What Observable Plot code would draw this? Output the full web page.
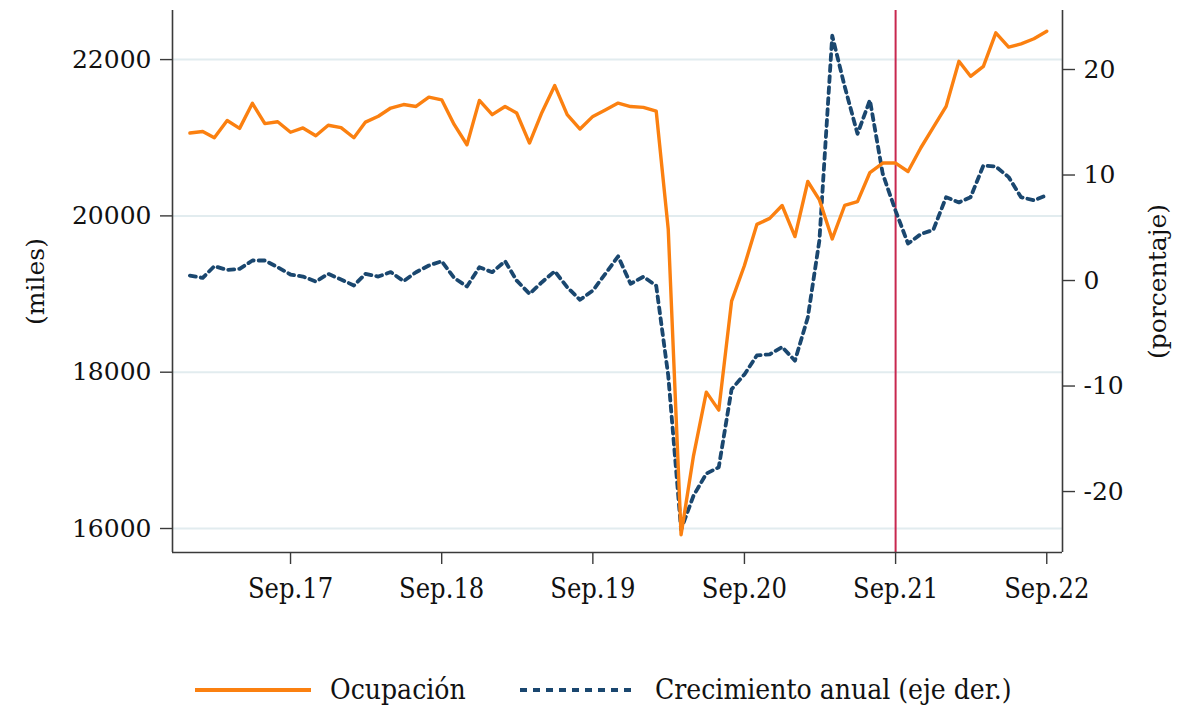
<!DOCTYPE html>
<html>
<head>
<meta charset="utf-8">
<script src="https://cdn.jsdelivr.net/npm/d3@7"></script>
<script src="https://cdn.jsdelivr.net/npm/@observablehq/plot@0.6"></script>
<style>
  html, body { margin: 0; padding: 0; background: #fff; }
  #wrap { position: relative; width: 1189px; height: 706px; overflow: hidden; }
  #chart svg { display: block; }
  #legend { position: absolute; left: 0; top: 640px; width: 1189px; height: 66px;
    font-family: "DejaVu Serif Condensed", "DejaVu Serif", serif; font-stretch: condensed;
    font-size: 28px; color: #111; }
  #legend .lbl { position: absolute; top: 0; height: 66px; line-height: 66px; white-space: nowrap; }
</style>
</head>
<body>
<div id="wrap">
  <div id="chart"></div>
  <div id="legend"></div>
</div>
<script>
// ---- Data (monthly, Jan 2017 – Sep 2022) ----
const firstYear = 2017;
const firstMonth = 0; // January
const ocupacion = [
  21060, 21080, 21000, 21220, 21120, 21440, 21180, 21205, 21070, 21125, 21025, 21160,
  21130, 21000, 21200, 21275, 21380, 21425, 21400, 21520, 21485, 21170, 20910, 21478,
  21295, 21400, 21316, 20932, 21324, 21667, 21295, 21111, 21273, 21355, 21443, 21399,
  21389, 21339, 19830, 15920, 16930, 17745, 17515, 18910, 19365, 19891, 19968, 20133,
  19735, 20440, 20205, 19705, 20133, 20183, 20555, 20676, 20676, 20568, 20872, 21132,
  21401, 21978, 21786, 21914, 22342, 22159, 22201, 22266, 22363
];
const crecimiento = [
  0.47, 0.25, 1.36, 1.0, 1.1, 1.9, 1.9, 1.26, 0.57, 0.38, -0.1, 0.63,
  0.1, -0.47, 0.63, 0.38, 0.8, -0.06, 0.79, 1.42, 1.83, 0.25, -0.57, 1.26,
  0.79, 1.83, 0.0, -1.26, -0.16, 0.88, -0.63, -1.83, -0.95, 0.63, 2.29, -0.31,
  0.36, -0.5, -9.0, -23.6, -20.4, -18.3, -17.7, -10.3, -8.9, -7.1, -7.0, -6.3,
  -7.6, -3.5, 3.8, 23.2, 18.4, 13.9, 17.1, 10.1, 6.6, 3.5, 4.4, 4.8,
  7.9, 7.4, 7.9, 10.9, 10.8, 9.8, 7.9, 7.6, 8.1
];
const leftTicks = [16000, 18000, 20000, 22000];
const rightTicks = [-20, -10, 0, 10, 20];
const xTickYears = [2017, 2018, 2019, 2020, 2021, 2022];
const xTickLabels = ["Sep.17", "Sep.18", "Sep.19", "Sep.20", "Sep.21", "Sep.22"];
const markerYear = 2021, markerMonth = 8;
const seriesNames = ["Ocupación", "Crecimiento anual (eje der.)"];
const leftLabel = "(miles)";
const rightLabel = "(porcentaje)";

// ---- Styles / scales config ----
const orange = "#fb8010";
const navy = "#1a476f";
const red = "#c8284f";
const axisColor = "#3a3a3a";
const serif = "DejaVu Serif, Liberation Serif, serif";
const serifNarrow = "DejaVu Serif Condensed, DejaVu Serif, serif";

const data = ocupacion.map((v, i) => ({
  date: new Date(Date.UTC(firstYear, firstMonth + i, 1)),
  ocup: v,
  crec: crecimiento[i]
}));
const xTicks = xTickYears.map(y => new Date(Date.UTC(y, 8, 1)));
const marker = new Date(Date.UTC(markerYear, markerMonth, 1));
const xDomain = [new Date(Date.UTC(2016, 10, 20)), new Date(Date.UTC(2022, 9, 9))];
const yDomain = [15693, 22628];
// right axis (percent) mapped onto left axis (thousands)
const toLeft = d3.scaleLinear().domain([-20, 20]).range([16473, 21873]);

const chart = Plot.plot({
  width: 1189,
  height: 640,
  marginLeft: 172,
  marginRight: 127,
  marginTop: 10,
  marginBottom: 88,
  x: { type: "utc", domain: xDomain },
  y: { domain: yDomain },
  marks: [
    Plot.gridY(leftTicks, { stroke: "#e2ecef", strokeOpacity: 1, strokeWidth: 2 }),
    Plot.ruleX([marker], { stroke: red, strokeWidth: 2 }),
    Plot.line(data, { x: "date", y: d => toLeft(d.crec), stroke: navy, strokeWidth: 3.8,
      strokeDasharray: "6,5" }),
    Plot.line(data, { x: "date", y: "ocup", stroke: orange, strokeWidth: 3.4 }),
    Plot.ruleX([xDomain[0]], { stroke: axisColor, strokeWidth: 1.6 }),
    Plot.ruleX([xDomain[1]], { stroke: axisColor, strokeWidth: 1.6 }),
    Plot.ruleY([yDomain[0]], { stroke: axisColor, strokeWidth: 1.6 }),
    Plot.axisY(leftTicks, {
      anchor: "left", tickSize: 12, tickPadding: 9, stroke: axisColor, strokeWidth: 1.4,
      fontSize: 25, fontFamily: serif, fill: "#111",
      tickFormat: d => String(d), label: null
    }),
    Plot.axisY(rightTicks.map(t => toLeft(t)), {
      anchor: "right", tickSize: 12, tickPadding: 9, stroke: axisColor, strokeWidth: 1.4,
      fontSize: 25, fontFamily: serif, fill: "#111",
      tickFormat: d => String(Math.round(toLeft.invert(d))), label: null
    }),
    Plot.text([leftLabel], { frameAnchor: "left", dx: -137, rotate: -90, text: d => d,
      textAnchor: "middle", fontSize: 25, fontFamily: serif, fill: "#111" }),
    Plot.text([rightLabel], { frameAnchor: "right", dx: 95, rotate: -90, text: d => d,
      textAnchor: "middle", fontSize: 25, fontFamily: serif, fill: "#111" }),
    Plot.axisX(xTicks, {
      anchor: "bottom", tickSize: 12, tickPadding: 14, stroke: axisColor, strokeWidth: 1.4,
      fontSize: 27, fontFamily: serifNarrow, fill: "#111",
      tickFormat: d => xTickLabels[xTicks.findIndex(t => +t === +d)],
      label: null
    })
  ]
});
document.getElementById("chart").appendChild(chart);

// ---- Legend ----
const legend = document.getElementById("legend");
function swatch(left, width, color, dash) {
  const ns = "http://www.w3.org/2000/svg";
  const s = document.createElementNS(ns, "svg");
  s.setAttribute("width", width); s.setAttribute("height", 10);
  s.style.position = "absolute"; s.style.left = left + "px"; s.style.top = "45px";
  const l = document.createElementNS(ns, "line");
  l.setAttribute("x1", 0); l.setAttribute("x2", width);
  l.setAttribute("y1", 5); l.setAttribute("y2", 5);
  l.setAttribute("stroke", color); l.setAttribute("stroke-width", 4);
  if (dash) l.setAttribute("stroke-dasharray", dash);
  s.appendChild(l);
  legend.appendChild(s);
}
function label(left, text) {
  const d = document.createElement("div");
  d.className = "lbl"; d.style.left = left + "px"; d.style.top = "17px";
  d.textContent = text;
  legend.appendChild(d);
}
swatch(195, 116, orange, null);
label(330, seriesNames[0]);
swatch(520, 112, navy, "7,6");
label(655, seriesNames[1]);
</script>
</body>
</html>
